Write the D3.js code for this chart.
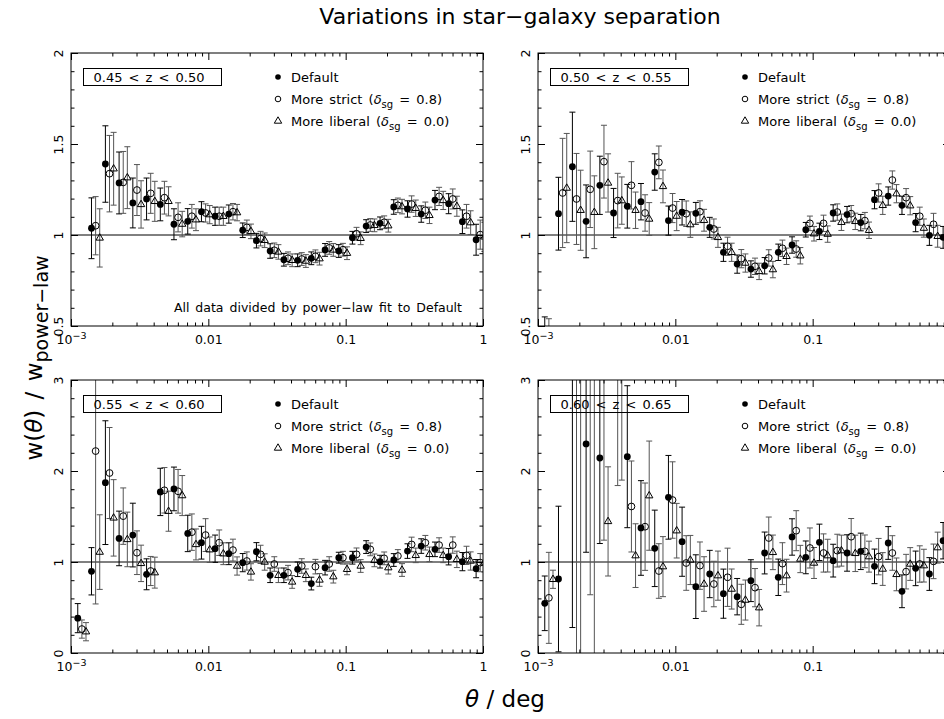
<!DOCTYPE html>
<html>
<head>
<meta charset="utf-8">
<script src="https://cdn.jsdelivr.net/npm/d3@7"></script>
<style>
  body { margin: 0; background: #fff; }
  text { font-family: "DejaVu Sans", sans-serif; fill: #000; }
  .tick text { font-size: 12.5px; }
</style>
</head>
<body>
<svg id="chart" width="944" height="719"></svg>
<script>
// bin centres in degrees (log10 = -2.95 ... -0.05)
var theta = [0.00112, 0.00141, 0.00178, 0.00224, 0.00282, 0.00355, 0.00447, 0.00562, 0.00708, 0.00891,
             0.0112, 0.0141, 0.0178, 0.0224, 0.0282, 0.0355, 0.0447, 0.0562, 0.0708, 0.0891,
             0.112, 0.141, 0.178, 0.224, 0.282, 0.355, 0.447, 0.562, 0.708, 0.891];

var zLabels = ["0.45 < z < 0.50", "0.50 < z < 0.55", "0.55 < z < 0.60", "0.60 < z < 0.65"];
var seriesNames = ["Default", "More strict", "More liberal"];
var seriesDelta = ["0.8", "0.0"];
var xTicks = [0.001, 0.01, 0.1, 1];
var yTicksTop = [0.5, 1, 1.5, 2];
var yTicksBottom = [0, 1, 2, 3];

// panel 1 : 0.45 < z < 0.50
var p1Def = [null, 1.037, 1.39, 1.286, 1.176, 1.198, 1.168, 1.059, 1.075, 1.128, 1.103, 1.115, 1.026, 0.969, 0.912, 0.864, 0.861, 0.872, 0.918, 0.912, 0.985, 1.049, 1.064, 1.154, 1.143, 1.115, 1.192, 1.172, 1.073, 0.974];
var p1DefErr = [null, 0.167, 0.21, 0.17, 0.137, 0.115, 0.09, 0.085, 0.07, 0.055, 0.05, 0.05, 0.04, 0.04, 0.04, 0.035, 0.035, 0.035, 0.035, 0.035, 0.035, 0.035, 0.035, 0.04, 0.045, 0.045, 0.053, 0.055, 0.065, 0.085];
var p1Str = [null, 1.051, 1.337, 1.289, 1.247, 1.229, 1.205, 1.097, 1.103, 1.121, 1.103, 1.128, 1.042, 0.98, 0.916, 0.872, 0.868, 0.883, 0.929, 0.919, 1.007, 1.055, 1.07, 1.163, 1.17, 1.136, 1.212, 1.198, 1.103, 1.002];
var p1StrErr = [null, 0.16, 0.21, 0.17, 0.14, 0.11, 0.09, 0.08, 0.065, 0.05, 0.05, 0.045, 0.04, 0.04, 0.04, 0.035, 0.035, 0.035, 0.035, 0.035, 0.035, 0.035, 0.035, 0.04, 0.045, 0.045, 0.05, 0.055, 0.065, 0.08];
var p1Lib = [null, 0.984, 1.364, 1.315, 1.168, 1.185, 1.185, 1.06, 1.084, 1.112, 1.103, 1.123, 1.02, 0.971, 0.907, 0.861, 0.857, 0.87, 0.918, 0.9, 0.982, 1.053, 1.051, 1.156, 1.147, 1.108, 1.19, 1.158, 1.068, 0.99];
var p1LibErr = [null, 0.16, 0.2, 0.17, 0.13, 0.11, 0.08, 0.07, 0.06, 0.05, 0.05, 0.045, 0.04, 0.04, 0.04, 0.035, 0.035, 0.035, 0.035, 0.035, 0.035, 0.035, 0.035, 0.04, 0.045, 0.045, 0.05, 0.055, 0.065, 0.08];

// panel 2 : 0.50 < z < 0.55
var p2Def = [0.35, 1.117, 1.375, 1.075, 1.273, 1.121, 1.158, 1.183, 1.346, 1.079, 1.125, 1.119, 1.042, 0.905, 0.84, 0.813, 0.831, 0.905, 0.945, 1.029, 1.02, 1.121, 1.112, 1.068, 1.194, 1.214, 1.163, 1.068, 0.998, 0.987];
var p2DefErr = [0.2, 0.2, 0.3, 0.2, 0.16, 0.135, 0.12, 0.1, 0.1, 0.08, 0.07, 0.06, 0.055, 0.05, 0.05, 0.045, 0.045, 0.045, 0.045, 0.04, 0.045, 0.045, 0.045, 0.045, 0.05, 0.05, 0.05, 0.05, 0.055, 0.06];
var p2Str = [0.33, 1.231, 1.198, 1.251, 1.403, 1.189, 1.273, 1.121, 1.399, 1.148, 1.117, 1.128, 1.033, 0.938, 0.87, 0.828, 0.874, 0.927, 0.923, 1.064, 1.064, 1.126, 1.117, 1.079, 1.231, 1.302, 1.205, 1.103, 1.059, 0.99];
var p2StrErr = [0.21, 0.3, 0.25, 0.21, 0.2, 0.15, 0.13, 0.1, 0.09, 0.08, 0.07, 0.06, 0.055, 0.05, 0.05, 0.045, 0.045, 0.045, 0.045, 0.04, 0.045, 0.045, 0.045, 0.045, 0.05, 0.05, 0.05, 0.05, 0.06, 0.065];
var p2Lib = [null, 1.258, 1.136, 1.125, 1.286, 1.189, 1.136, 1.088, 1.267, 1.104, 1.057, 1.081, 0.987, 0.905, 0.846, 0.8, 0.81, 0.883, 0.886, 1.007, 1.005, 1.07, 1.075, 1.026, 1.163, 1.227, 1.161, 1.038, 0.993, 0.98];
var p2LibErr = [null, 0.3, 0.22, 0.2, 0.16, 0.13, 0.1, 0.09, 0.09, 0.08, 0.07, 0.06, 0.055, 0.05, 0.05, 0.045, 0.045, 0.045, 0.045, 0.04, 0.045, 0.045, 0.045, 0.045, 0.05, 0.05, 0.05, 0.05, 0.06, 0.065];

// panel 3 : 0.55 < z < 0.60
var p3Def = [0.383, 0.898, 1.872, 1.259, 1.296, 0.865, 1.77, 1.803, 1.314, 1.212, 1.146, 1.091, 0.993, 1.113, 0.854, 0.854, 0.92, 0.763, 0.938, 1.047, 1.047, 1.164, 1.004, 1.022, 1.12, 1.175, 1.139, 1.058, 1.004, 0.927];
var p3DefErr = [0.16, 0.26, 0.68, 0.3, 0.35, 0.17, 0.26, 0.24, 0.2, 0.18, 0.15, 0.12, 0.1, 0.1, 0.08, 0.08, 0.08, 0.07, 0.08, 0.06, 0.07, 0.07, 0.07, 0.07, 0.08, 0.08, 0.08, 0.09, 0.1, 0.1];
var p3Str = [0.263, 2.219, 1.978, 1.504, 1.102, 0.901, 1.788, 1.777, 1.328, 1.296, 1.212, 1.131, 1.011, 1.084, 0.978, 0.883, 0.956, 0.949, 0.978, 1.047, 1.084, 1.139, 1.04, 1.066, 1.193, 1.212, 1.186, 1.186, 1.073, 0.993];
var p3StrErr = [0.1, 1.68, 0.5, 0.31, 0.24, 0.16, 0.25, 0.24, 0.2, 0.18, 0.14, 0.12, 0.1, 0.1, 0.08, 0.08, 0.08, 0.08, 0.08, 0.07, 0.07, 0.07, 0.07, 0.07, 0.08, 0.08, 0.08, 0.09, 0.1, 0.1];
var p3Lib = [0.234, 1.109, 1.485, 1.248, 0.985, 0.883, 1.558, 1.73, 1.193, 1.135, 1.091, 0.956, 0.891, 1.0, 0.854, 0.781, 0.854, 0.803, 0.839, 0.92, 0.956, 1.018, 0.938, 0.912, 1.073, 1.084, 1.073, 1.029, 1.011, 0.99];
var p3LibErr = [0.1, 0.41, 0.42, 0.3, 0.2, 0.17, 0.22, 0.22, 0.17, 0.14, 0.12, 0.1, 0.09, 0.09, 0.08, 0.07, 0.07, 0.07, 0.07, 0.06, 0.07, 0.07, 0.07, 0.07, 0.08, 0.08, 0.08, 0.09, 0.1, 0.1];

// panel 4 : 0.60 < z < 0.65
var p4Def = [0.546, 0.813, 3.4, 2.297, 2.143, null, 2.157, 1.374, 1.15, 1.711, 1.223, 0.729, 0.868, 0.652, 0.619, 0.795, 1.099, 0.832, 1.275, 1.051, 1.216, 1.015, 1.099, 1.117, 0.952, 1.209, 0.678, 0.93, 0.868, 1.234];
var p4DefErr = [0.3, 0.8, 3.12, 1.19, 0.94, null, 0.78, 0.52, 0.42, 0.46, 0.38, 0.35, 0.26, 0.27, 0.2, 0.23, 0.23, 0.2, 0.2, 0.18, 0.2, 0.18, 0.2, 0.2, 0.19, 0.18, 0.18, 0.19, 0.18, 0.2];
var p4Str = [0.606, null, 3.5, 3.3, 3.3, 3.3, 1.61, 1.388, 0.901, 1.681, 0.989, 0.96, 0.758, 0.832, 0.535, 0.718, 1.264, 0.982, 1.344, 1.154, 1.099, 1.125, 1.278, 1.117, 1.059, 1.099, 0.894, 0.978, 1.007, null];
var p4StrErr = [0.5, null, 4.0, 2.66, 2.06, 1.46, 0.5, 0.48, 0.3, 0.42, 0.3, 0.26, 0.25, 0.32, 0.22, 0.21, 0.23, 0.23, 0.22, 0.22, 0.21, 0.18, 0.2, 0.18, 0.2, 0.19, 0.19, 0.2, 0.19, null];
var p4Lib = [0.81, null, 3.5, 3.5, 1.446, 3.3, 1.07, 1.729, 0.949, 1.344, 1.022, 0.758, 0.85, 0.703, 0.582, 0.498, 1.106, 0.85, 1.033, 0.989, 1.07, 1.125, 1.095, 1.059, 0.923, 0.864, 0.978, 0.96, 1.158, null];
var p4LibErr = [0.1, null, 4.0, 4.0, 0.6, 1.4, 0.35, 0.6, 0.33, 0.3, 0.27, 0.3, 0.27, 0.22, 0.22, 0.2, 0.19, 0.18, 0.15, 0.17, 0.18, 0.17, 0.2, 0.17, 0.18, 0.18, 0.18, 0.18, 0.17, null];

var panels = [
  { label: zLabels[0], yDomain: [0.5, 2], yTicks: yTicksTop, yMinor: 0.1, vals: [p1Def, p1Str, p1Lib], errs: [p1DefErr, p1StrErr, p1LibErr], note: true },
  { label: zLabels[1], yDomain: [0.5, 2], yTicks: yTicksTop, yMinor: 0.1, vals: [p2Def, p2Str, p2Lib], errs: [p2DefErr, p2StrErr, p2LibErr] },
  { label: zLabels[2], yDomain: [0, 3], yTicks: yTicksBottom, yMinor: 0.2, vals: [p3Def, p3Str, p3Lib], errs: [p3DefErr, p3StrErr, p3LibErr] },
  { label: zLabels[3], yDomain: [0, 3], yTicks: yTicksBottom, yMinor: 0.2, vals: [p4Def, p4Str, p4Lib], errs: [p4DefErr, p4StrErr, p4LibErr] }
];

// x offset of each series (dex) so the points don't sit on top of each other
var seriesStyle = [
  { dex: 0.0,  bar: "#000", shape: "dot" },
  { dex: 0.03, bar: "#555", shape: "ring" },
  { dex: 0.06, bar: "#555", shape: "tri" }
];

var svg = d3.select("#chart");
var W = 412, H = 273;
var layout = [{ x: 71, y: 53 }, { x: 538, y: 53 }, { x: 71, y: 380 }, { x: 538, y: 380 }];

var triPath = "M0,-4.2L3.7,2.2L-3.7,2.2Z";

function drawMarker(sel, shape, r) {
  if (shape == "dot") {
    sel.append("circle").attr("r", r).attr("fill", "#000");
  } else if (shape == "ring") {
    sel.append("circle").attr("r", r).attr("fill", "none").attr("stroke", "#000").attr("stroke-width", 1);
  } else {
    sel.append("path").attr("d", triPath).attr("fill", "none").attr("stroke", "#000").attr("stroke-width", 1);
  }
}

var xMinor = [];
[0.001, 0.01, 0.1].forEach(function(d) { for (var m = 2; m < 10; m++) xMinor.push(d * m); });

panels.forEach(function(p, i) {
  var L = layout[i];
  var x = d3.scaleLog().domain([1e-3, 1]).range([L.x, L.x + W]);
  var y = d3.scaleLinear().domain(p.yDomain).range([L.y + H, L.y]);

  var clipId = "clip" + i;
  svg.append("clipPath").attr("id", clipId)
    .append("rect").attr("x", L.x).attr("y", L.y).attr("width", W).attr("height", H);

  var plot = svg.append("g").attr("clip-path", "url(#" + clipId + ")");

  // reference line at 1
  plot.append("line")
    .attr("x1", L.x).attr("x2", L.x + W)
    .attr("y1", y(1)).attr("y2", y(1))
    .attr("stroke", "#000").attr("stroke-width", 1);

  var data = seriesStyle.map(function(s, j) {
    return theta.map(function(t, k) {
      return { t: t * Math.pow(10, s.dex), v: p.vals[j][k], e: p.errs[j][k] };
    }).filter(function(d) { return d.v != null; });
  });

  // error bars first
  data.forEach(function(pts, j) {
    var bars = plot.append("g").attr("stroke", seriesStyle[j].bar).attr("stroke-width", 1)
      .selectAll("g").data(pts).enter().append("g");
    bars.append("line")
      .attr("x1", function(d) { return x(d.t); }).attr("x2", function(d) { return x(d.t); })
      .attr("y1", function(d) { return y(d.v - d.e); }).attr("y2", function(d) { return y(d.v + d.e); });
    bars.append("line")
      .attr("x1", function(d) { return x(d.t) - 3; }).attr("x2", function(d) { return x(d.t) + 3; })
      .attr("y1", function(d) { return y(d.v + d.e); }).attr("y2", function(d) { return y(d.v + d.e); });
    bars.append("line")
      .attr("x1", function(d) { return x(d.t) - 3; }).attr("x2", function(d) { return x(d.t) + 3; })
      .attr("y1", function(d) { return y(d.v - d.e); }).attr("y2", function(d) { return y(d.v - d.e); });
  });

  data.forEach(function(pts, j) {
    var m = plot.append("g").selectAll("g").data(pts).enter().append("g")
      .attr("transform", function(d) { return "translate(" + x(d.t) + "," + y(d.v) + ")"; });
    drawMarker(m, seriesStyle[j].shape, 3.4);
  });

  // axes, ticks inward on all four sides
  var yMinorTicks = d3.range(p.yDomain[0], p.yDomain[1] + 1e-9, p.yMinor);
  function strip(g) { g.select(".domain").remove(); }

  var gb = svg.append("g").attr("transform", "translate(0," + (L.y + H) + ")")
    .call(d3.axisBottom(x).tickValues(xTicks).tickSize(-7).tickPadding(9)
      .tickFormat(function(d) { return d < 0.005 ? "" : d3.format("~g")(d); }))
    .call(strip);
  gb.selectAll(".tick text").filter(function(d) { return d < 0.005; })
    .text("10").append("tspan").attr("dy", "-0.5em").attr("font-size", "9.5px").text("\u22123");
  // the right-hand panels run past the edge of the page: drop labels that fall outside
  gb.selectAll(".tick").filter(function(d) { return x(d) > 936; }).select("text").remove();
  svg.append("g").attr("transform", "translate(0," + (L.y + H) + ")")
    .call(d3.axisBottom(x).tickValues(xMinor).tickSize(-3.5).tickFormat("")).call(strip);
  svg.append("g").attr("transform", "translate(0," + L.y + ")")
    .call(d3.axisTop(x).tickValues(xTicks).tickSize(-7).tickFormat("")).call(strip);
  svg.append("g").attr("transform", "translate(0," + L.y + ")")
    .call(d3.axisTop(x).tickValues(xMinor).tickSize(-3.5).tickFormat("")).call(strip);

  var gl = svg.append("g").attr("transform", "translate(" + L.x + ",0)")
    .call(d3.axisLeft(y).tickValues(p.yTicks).tickSize(-7).tickFormat(d3.format("~g")))
    .call(strip);
  gl.selectAll(".tick text")
    .attr("transform", "rotate(-90)")
    .attr("x", 0).attr("y", -8).attr("dy", 0)
    .attr("text-anchor", "middle");
  svg.append("g").attr("transform", "translate(" + L.x + ",0)")
    .call(d3.axisLeft(y).tickValues(yMinorTicks).tickSize(-3.5).tickFormat("")).call(strip);
  svg.append("g").attr("transform", "translate(" + (L.x + W) + ",0)")
    .call(d3.axisRight(y).tickValues(p.yTicks).tickSize(-7).tickFormat("")).call(strip);
  svg.append("g").attr("transform", "translate(" + (L.x + W) + ",0)")
    .call(d3.axisRight(y).tickValues(yMinorTicks).tickSize(-3.5).tickFormat("")).call(strip);

  svg.append("rect")
    .attr("x", L.x).attr("y", L.y).attr("width", W).attr("height", H)
    .attr("fill", "none").attr("stroke", "#000").attr("stroke-width", 1);

  // redshift box
  svg.append("rect")
    .attr("x", L.x + 12.5).attr("y", L.y + 15.5).attr("width", 138).attr("height", 17)
    .attr("fill", "none").attr("stroke", "#000").attr("stroke-width", 1);
  svg.append("text")
    .attr("x", L.x + 78).attr("y", L.y + 29)
    .attr("text-anchor", "middle").attr("font-size", "13px").attr("word-spacing", "2px")
    .text(p.label);

  // legend
  var lg = svg.append("g").attr("transform", "translate(" + (L.x + 207) + "," + (L.y + 24) + ")");
  seriesStyle.forEach(function(s, j) {
    var row = lg.append("g").attr("transform", "translate(0," + (j * 22) + ")");
    drawMarker(row, s.shape, 2.8);
    var t = row.append("text").attr("x", 13).attr("y", 5).attr("font-size", "13px").attr("word-spacing", "2px");
    if (j == 0) {
      t.text(seriesNames[0]);
    } else {
      t.append("tspan").text(seriesNames[j] + " (");
      t.append("tspan").attr("font-style", "italic").text("\u03b4");
      t.append("tspan").attr("dy", 4).attr("font-size", "10px").text("sg");
      t.append("tspan").attr("dy", -4).text(" = " + seriesDelta[j - 1] + ")");
    }
  });

  if (p.note) {
    svg.append("text")
      .attr("x", L.x + 391).attr("y", L.y + 259)
      .attr("text-anchor", "end").attr("font-size", "12.5px").attr("word-spacing", "2px")
      .text("All data divided by power\u2212law fit to Default");
  }
});

// titles
svg.append("text")
  .attr("x", 520).attr("y", 24)
  .attr("text-anchor", "middle").attr("font-size", "22px")
  .text("Variations in star\u2212galaxy separation");

var xt = svg.append("text")
  .attr("x", 505).attr("y", 707)
  .attr("text-anchor", "middle").attr("font-size", "23px");
xt.append("tspan").attr("font-style", "italic").text("\u03b8");
xt.append("tspan").text(" / deg");

var yt = svg.append("text")
  .attr("transform", "translate(42,358) rotate(-90)")
  .attr("text-anchor", "middle").attr("font-size", "23px").attr("word-spacing", "3px");
yt.append("tspan").text("w(");
yt.append("tspan").attr("font-style", "italic").text("\u03b8");
yt.append("tspan").text(")  /  w");
yt.append("tspan").attr("dy", 6).attr("font-size", "19px").text("power\u2212law");
</script>
</body>
</html>
